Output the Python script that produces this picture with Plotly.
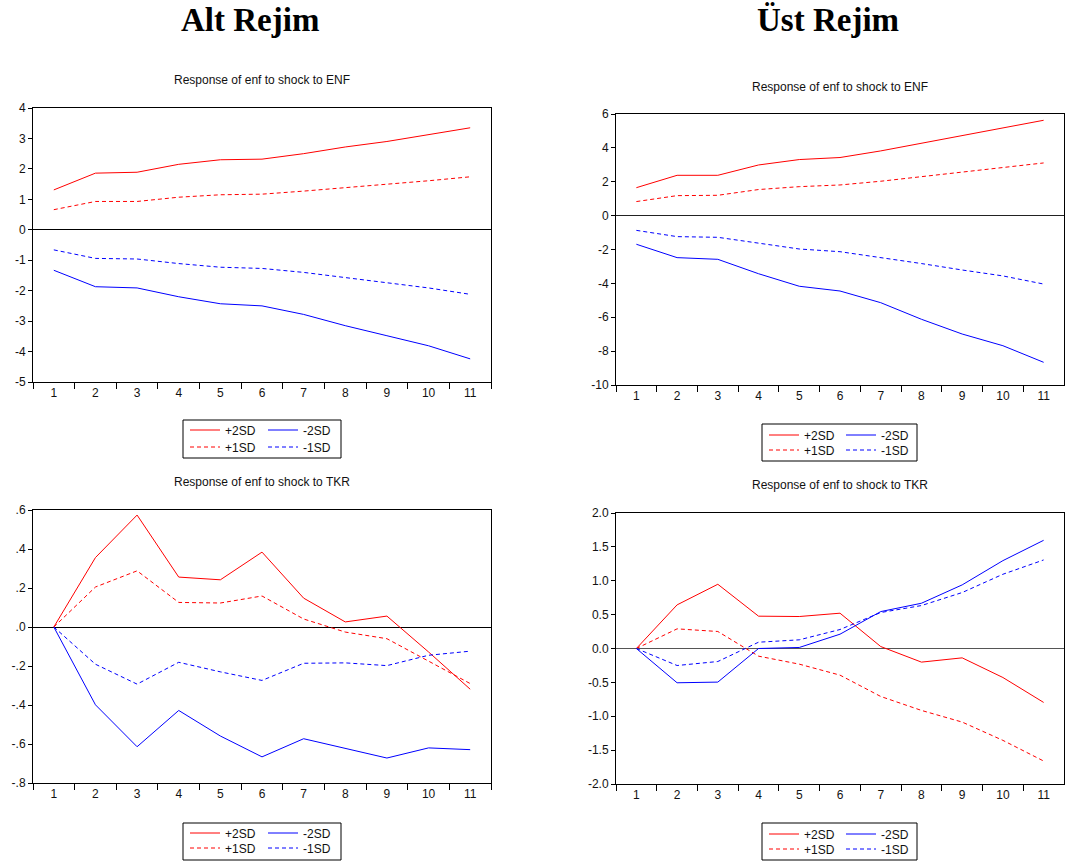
import plotly.graph_objects as go

W, H = 1066, 866

# ---------------- data ----------------
periods = list(range(1, 12))

# Alt Rejim - Response of enf to shock to ENF
alt_enf_p2 = [1.31, 1.86, 1.89, 2.15, 2.30, 2.32, 2.50, 2.72, 2.90, 3.13, 3.35]
alt_enf_p1 = [0.66, 0.93, 0.93, 1.07, 1.15, 1.17, 1.27, 1.38, 1.49, 1.61, 1.74]
alt_enf_m1 = [-0.66, -0.94, -0.96, -1.11, -1.23, -1.27, -1.40, -1.57, -1.72, -1.91, -2.12]
alt_enf_m2 = [-1.33, -1.87, -1.91, -2.20, -2.43, -2.50, -2.78, -3.15, -3.48, -3.81, -4.24]

# Üst Rejim - Response of enf to shock to ENF
ust_enf_p2 = [1.65, 2.38, 2.38, 2.99, 3.31, 3.43, 3.82, 4.27, 4.70, 5.16, 5.63]
ust_enf_p1 = [0.83, 1.18, 1.20, 1.54, 1.71, 1.81, 2.03, 2.30, 2.58, 2.83, 3.11]
ust_enf_m1 = [-0.87, -1.24, -1.28, -1.63, -1.97, -2.13, -2.46, -2.83, -3.21, -3.56, -4.04]
ust_enf_m2 = [-1.69, -2.48, -2.58, -3.43, -4.17, -4.45, -5.14, -6.12, -6.99, -7.68, -8.66]

# Alt Rejim - Response of enf to shock to TKR
alt_tkr_p2 = [0.0, 0.356, 0.574, 0.256, 0.242, 0.384, 0.148, 0.026, 0.056, -0.128, -0.319]
alt_tkr_p1 = [0.0, 0.205, 0.288, 0.126, 0.123, 0.159, 0.041, -0.026, -0.060, -0.174, -0.290]
alt_tkr_m1 = [0.0, -0.191, -0.293, -0.181, -0.230, -0.274, -0.186, -0.184, -0.198, -0.145, -0.124]
alt_tkr_m2 = [0.0, -0.399, -0.614, -0.428, -0.559, -0.666, -0.573, -0.624, -0.672, -0.620, -0.629]

# Üst Rejim - Response of enf to shock to TKR
ust_tkr_p2 = [0.0, 0.644, 0.948, 0.477, 0.472, 0.521, 0.029, -0.201, -0.138, -0.428, -0.796]
ust_tkr_p1 = [0.0, 0.290, 0.251, -0.113, -0.231, -0.393, -0.708, -0.914, -1.086, -1.356, -1.661]
ust_tkr_m1 = [0.0, -0.251, -0.192, 0.093, 0.128, 0.280, 0.531, 0.634, 0.826, 1.096, 1.307]
ust_tkr_m2 = [0.0, -0.506, -0.496, 0.0, 0.015, 0.211, 0.545, 0.668, 0.939, 1.297, 1.597]

# tick labels
alt_enf_ticks = [-5, -4, -3, -2, -1, 0, 1, 2, 3, 4]
alt_enf_labels = ["-5", "-4", "-3", "-2", "-1", "0", "1", "2", "3", "4"]
ust_enf_ticks = [-10, -8, -6, -4, -2, 0, 2, 4, 6]
ust_enf_labels = ["-10", "-8", "-6", "-4", "-2", "0", "2", "4", "6"]
alt_tkr_ticks = [-0.8, -0.6, -0.4, -0.2, 0.0, 0.2, 0.4, 0.6]
alt_tkr_labels = ["-.8", "-.6", "-.4", "-.2", ".0", ".2", ".4", ".6"]
ust_tkr_ticks = [-2.0, -1.5, -1.0, -0.5, 0.0, 0.5, 1.0, 1.5, 2.0]
ust_tkr_labels = ["-2.0", "-1.5", "-1.0", "-0.5", "0.0", "0.5", "1.0", "1.5", "2.0"]

series_names = ["+2SD", "+1SD", "-2SD", "-1SD"]
main_titles = ["Alt Rejim", "Üst Rejim"]
panel_titles = ["Response of enf to shock to ENF", "Response of enf to shock to ENF",
                "Response of enf to shock to TKR", "Response of enf to shock to TKR"]

# ---------------- layout helpers ----------------
def fx(p):
    return p / W


def fy(p):
    return 1 - p / H


SANS = "Liberation Sans, Arial, sans-serif"
RED = "#FF0000"
BLUE = "#0000FF"
DASH = "4px,3px"

panels = [
    dict(title=panel_titles[0], box=(33, 491, 108, 382), title_y=80, yrange=[-5, 4],
         ticks=(alt_enf_ticks, alt_enf_labels),
         data=(alt_enf_p2, alt_enf_p1, alt_enf_m2, alt_enf_m1),
         leg_rows=(430, 447), leg_cols=(185, 263), leg_box=(183, 341, 420, 458), zc="black"),
    dict(title=panel_titles[1], box=(616, 1064, 114, 385), title_y=87, yrange=[-10, 6],
         ticks=(ust_enf_ticks, ust_enf_labels),
         data=(ust_enf_p2, ust_enf_p1, ust_enf_m2, ust_enf_m1),
         leg_rows=(435, 450), leg_cols=(764, 841), leg_box=(762, 917, 424, 461), zc="#222222"),
    dict(title=panel_titles[2], box=(33, 491, 510, 783), title_y=482, yrange=[-0.8, 0.6],
         ticks=(alt_tkr_ticks, alt_tkr_labels),
         data=(alt_tkr_p2, alt_tkr_p1, alt_tkr_m2, alt_tkr_m1),
         leg_rows=(833, 848), leg_cols=(185, 263), leg_box=(183, 341, 823, 860), zc="black"),
    dict(title=panel_titles[3], box=(616, 1064, 513, 784), title_y=485, yrange=[-2, 2],
         ticks=(ust_tkr_ticks, ust_tkr_labels),
         data=(ust_tkr_p2, ust_tkr_p1, ust_tkr_m2, ust_tkr_m1),
         leg_rows=(834, 849), leg_cols=(764, 841), leg_box=(762, 917, 823, 860), zc="#555555"),
]

fig = go.Figure()
layout = dict(
    width=W, height=H,
    margin=dict(l=0, r=0, t=0, b=0, autoexpand=False),
    paper_bgcolor="white", plot_bgcolor="white",
    font=dict(family=SANS, size=12, color="#111111"),
    showlegend=True,
    annotations=[], shapes=[],
)

styles = [(RED, "solid"), (RED, DASH), (BLUE, "solid"), (BLUE, DASH)]
# (row, column) of each series inside the legend frame
slots = [(0, 0), (1, 0), (0, 1), (1, 1)]

leg_n = 0
for i, p in enumerate(panels):
    n = i + 1
    xa = "x" if n == 1 else f"x{n}"
    ya = "y" if n == 1 else f"y{n}"
    xkey = "xaxis" if n == 1 else f"xaxis{n}"
    ykey = "yaxis" if n == 1 else f"yaxis{n}"

    for k, (vals, name) in enumerate(zip(p["data"], series_names)):
        color, dash = styles[k]
        leg_n += 1
        lk = "legend" if leg_n == 1 else f"legend{leg_n}"
        fig.add_trace(go.Scatter(
            x=periods, y=vals, name=name, mode="lines",
            line=dict(color=color, width=1, dash=dash),
            xaxis=xa, yaxis=ya, legend=lk,
            hoverinfo="skip",
        ))
        r, c = slots[k]
        layout[lk] = dict(
            x=fx(p["leg_cols"][c]), xanchor="left",
            y=fy(p["leg_rows"][r] - 14.5), yanchor="top",
            orientation="v", bgcolor="rgba(0,0,0,0)", borderwidth=0,
            font=dict(family=SANS, size=12, color="#111111"),
            itemclick=False, itemdoubleclick=False,
        )

    x0, x1, y0, y1 = p["box"]
    layout[xkey] = dict(
        domain=[fx(x0), fx(x1)], anchor=ya, type="category",
        range=[-0.5, 10.5], tickson="boundaries",
        ticks="outside", ticklen=6, tickcolor="black", tickwidth=1,
        showline=True, linecolor="black", linewidth=1, mirror=True,
        showgrid=False, zeroline=False,
        tickfont=dict(family=SANS, size=12, color="#111111"),
        fixedrange=True,
    )
    layout[ykey] = dict(
        domain=[fy(y1), fy(y0)], anchor=xa, range=p["yrange"],
        tickvals=p["ticks"][0], ticktext=p["ticks"][1],
        ticks="outside", ticklen=4, tickcolor="black", tickwidth=1,
        showline=True, linecolor="black", linewidth=1, mirror=True,
        showgrid=False, zeroline=True, zerolinecolor=p["zc"], zerolinewidth=1,
        tickfont=dict(family=SANS, size=12, color="#111111"),
        fixedrange=True,
    )

    # panel title
    layout["annotations"].append(dict(
        text=p["title"], xref="paper", yref="paper",
        x=fx((x0 + x1) / 2), y=fy(p["title_y"]), xanchor="center", yanchor="middle",
        showarrow=False, font=dict(family=SANS, size=12, color="#111111"),
    ))

    # frame around the legend block
    bx0, bx1, by0, by1 = p["leg_box"]
    layout["shapes"].append(dict(
        type="rect", xref="paper", yref="paper",
        x0=fx(bx0), x1=fx(bx1), y0=fy(by1), y1=fy(by0),
        line=dict(color="black", width=1), fillcolor="rgba(0,0,0,0)", layer="below",
    ))

# main titles
for txt, cx in zip(main_titles, [250, 828]):
    layout["annotations"].append(dict(
        text=f"<b>{txt}</b>", xref="paper", yref="paper",
        x=fx(cx), y=fy(20), xanchor="center", yanchor="middle", showarrow=False,
        font=dict(family="Liberation Serif, Times New Roman, serif", size=33, color="black"),
    ))

fig.update_layout(**layout)
fig.write_html(
    "out.html",
    config={"displayModeBar": False},
    post_script=(
        "document.documentElement.style.margin='0';"
        "document.body.style.margin='0';"
        "document.body.style.overflow='hidden';"
        "var gd=document.querySelector('.plotly-graph-div');"
        "gd.style.position='fixed';gd.style.top='0px';gd.style.left='0px';"
    ),
)
